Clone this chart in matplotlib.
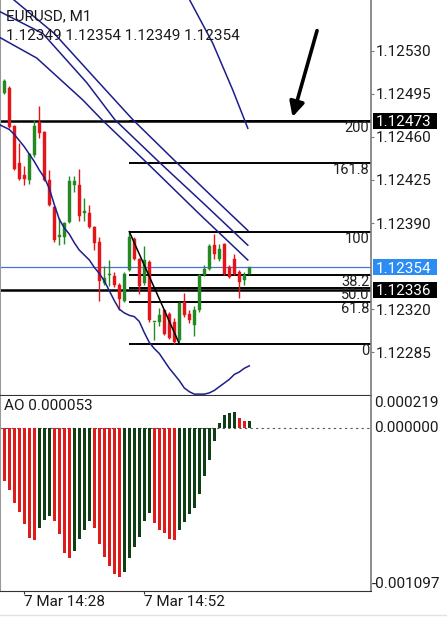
import matplotlib
matplotlib.use('Agg')
import matplotlib.pyplot as plt
import numpy as np
from matplotlib.patches import Rectangle
from matplotlib.lines import Line2D
from matplotlib.transforms import blended_transform_factory, IdentityTransform

plt.rcParams['font.family'] = ['Roboto', 'DejaVu Sans']

W, H = 447, 625

# ---------------- data ----------------
symbol_title = "EURUSD, M1"
ohlc_title = "1.12349 1.12354 1.12349 1.12354"

opens = [1.12496, 1.12500, 1.12469, 1.12439, 1.12429, 1.12425, 1.12445, 1.12472, 1.12464, 1.12425,
         1.12403, 1.12379, 1.12379, 1.12391, 1.12421, 1.12421, 1.12398, 1.12398, 1.12387, 1.12375,
         1.12341, 1.12348, 1.12347, 1.12340, 1.12327, 1.12352, 1.12377, 1.12361, 1.12341, 1.12358,
         1.12310, 1.12310, 1.12319, 1.12316, 1.12310, 1.12295, 1.12326, 1.12316, 1.12307, 1.12319,
         1.12348, 1.12353, 1.12372, 1.12361, 1.12373, 1.12354, 1.12361, 1.12350, 1.12344, 1.12349]
highs = [1.12507, 1.12501, 1.12470, 1.12455, 1.12436, 1.12447, 1.12474, 1.12485, 1.12465, 1.12433,
         1.12404, 1.12394, 1.12391, 1.12428, 1.12428, 1.12434, 1.12410, 1.12405, 1.12388, 1.12379,
         1.12355, 1.12360, 1.12350, 1.12341, 1.12350, 1.12383, 1.12379, 1.12362, 1.12371, 1.12360,
         1.12310, 1.12321, 1.12320, 1.12318, 1.12313, 1.12326, 1.12333, 1.12319, 1.12323, 1.12349,
         1.12356, 1.12373, 1.12381, 1.12373, 1.12374, 1.12356, 1.12365, 1.12352, 1.12350, 1.12354]
lows = [1.12495, 1.12467, 1.12433, 1.12425, 1.12421, 1.12422, 1.12444, 1.12459, 1.12424, 1.12404,
        1.12375, 1.12372, 1.12373, 1.12390, 1.12415, 1.12392, 1.12392, 1.12386, 1.12368, 1.12327,
        1.12340, 1.12339, 1.12338, 1.12319, 1.12326, 1.12351, 1.12360, 1.12332, 1.12340, 1.12310,
        1.12295, 1.12306, 1.12299, 1.12296, 1.12292, 1.12293, 1.12314, 1.12309, 1.12298, 1.12318,
        1.12347, 1.12352, 1.12361, 1.12359, 1.12348, 1.12345, 1.12348, 1.12329, 1.12340, 1.12349]
closes = [1.12505, 1.12468, 1.12434, 1.12426, 1.12426, 1.12446, 1.12469, 1.12463, 1.12425, 1.12405,
          1.12376, 1.12380, 1.12390, 1.12424, 1.12424, 1.12396, 1.12400, 1.12387, 1.12374, 1.12343,
          1.12345, 1.12349, 1.12340, 1.12328, 1.12349, 1.12379, 1.12361, 1.12339, 1.12360, 1.12311,
          1.12310, 1.12315, 1.12300, 1.12297, 1.12293, 1.12325, 1.12315, 1.12311, 1.12319, 1.12348,
          1.12353, 1.12371, 1.12365, 1.12369, 1.12349, 1.12346, 1.12349, 1.12342, 1.12348, 1.12354]

# fast moving average, bars -1 .. 49
ma_fast = [1.12470, 1.12468, 1.12466, 1.12462, 1.12457, 1.12452, 1.12446, 1.12440, 1.12433, 1.12427,
           1.12418, 1.12405, 1.12393, 1.12386, 1.12381, 1.12374, 1.12368, 1.12364, 1.12360, 1.12354,
           1.12349, 1.12343, 1.12335, 1.12327, 1.12320, 1.12317, 1.12315, 1.12314, 1.12310, 1.12301,
           1.12293, 1.12288, 1.12284, 1.12278, 1.12272, 1.12267, 1.12262, 1.12256, 1.12253, 1.12251,
           1.12251, 1.12251, 1.12252, 1.12254, 1.12257, 1.12260, 1.12263, 1.12267, 1.12269, 1.12272,
           1.12274]

# three parallel averages (sampled bars)
envA_bars = [-1, 2, 10, 18.5, 25.7, 34, 41.7, 48.7]
envA_vals = [1.12581, 1.12571, 1.12544, 1.12506, 1.12474, 1.12441, 1.12411, 1.12384]
envB_bars = [-1, 7.7, 16.5, 22.1, 31.1, 40.1, 48.7]
envB_vals = [1.12562, 1.12544, 1.12504, 1.12474, 1.12439, 1.12405, 1.12372]
envC_bars = [-1, 6.5, 15.7, 19.5, 28.5, 39.1, 48.7]
envC_vals = [1.12541, 1.12524, 1.12490, 1.12474, 1.12439, 1.12397, 1.12360]
# slow average
slow_bars = [34, 37.1, 41.7, 45.7, 48.7]
slow_vals = [1.12598, 1.12571, 1.12536, 1.12498, 1.12467]

# Awesome Oscillator (x1e-6)
ao = [-354, -413, -504, -561, -645, -741, -754, -673, -618, -589,
      -625, -714, -843, -877, -827, -743, -682, -625, -670, -777,
      -870, -925, -980, -1000, -968, -877, -798, -730, -623, -573,
      -636, -686, -707, -748, -754, -684, -632, -577, -536, -441,
      -323, -216, -82, 34, 91, 104, 110, 70, 48, 53]

hlines_prices = [1.12473, 1.12336]
current_price = 1.12354
fib_levels = [1.12473, 1.12439, 1.12383, 1.12348, 1.12337, 1.12326, 1.12292]
fib_labels = ["200", "161.8", "100", "38.2", "50.0", "61.8", "0"]
fib_start_bar = 25
fib_end_bar = 35

price_ticks = [1.12530, 1.12495, 1.12460, 1.12425, 1.12390, 1.12320, 1.12285]
ao_label_top, ao_label_bottom = 0.000219, -0.001097
time_tick_bars = [4, 28]
time_tick_labels = ["7 Mar 14:28", "7 Mar 14:52"]
arrow_tail = (62.7, 1.125485)
arrow_head = (57.5, 1.12474)

# ---------------- figure ----------------
fig = plt.figure(figsize=(W / 100, H / 100), dpi=100)
fig.patch.set_facecolor('white')

ax = fig.add_axes([0, 1 - 395 / H, 371 / W, 395 / H])
ax2 = fig.add_axes([0, 1 - 591 / H, 371 / W, (591 - 396) / H])

XMIN, XMAX = -0.86, 73.34
ax.set_xlim(XMIN, XMAX)
ax.set_ylim(1.122503, 1.125712)
ax2.set_xlim(XMIN, XMAX)
ax2.set_ylim(ao_label_bottom, ao_label_top)

GREEN = '#238a23'
RED = '#e3151a'
NAVY = '#1c1f8a'

o = np.array(opens); h = np.array(highs); l = np.array(lows); c = np.array(closes)
idx = np.arange(len(o))
up = c >= o
cols = np.where(up, GREEN, RED)

# horizontal lines
ax.axhline(current_price, color='#4a72d0', lw=0.9, zorder=1)
for p in hlines_prices:
    ax.axhline(p, color='black', lw=1.8, zorder=1)
# fib lines
ax.hlines(fib_levels, fib_start_bar, XMAX, color='black', lw=1.4, zorder=1)
ax.plot([fib_start_bar, fib_end_bar], [fib_levels[2], fib_levels[-1]], color='black', lw=1.1, zorder=4)

# moving averages
ax.plot(np.arange(-1, len(ma_fast) - 1), ma_fast, color=NAVY, lw=1.1, zorder=3)
for bx, vy in [(envA_bars, envA_vals), (envB_bars, envB_vals), (envC_bars, envC_vals), (slow_bars, slow_vals)]:
    ax.plot(bx, vy, color=NAVY, lw=1.1, zorder=3)

# candles
ax.vlines(idx, l, h, colors=cols, lw=1.0, zorder=2)
body = np.maximum(np.abs(c - o), 0.000008)
ax.bar(idx, body, bottom=np.minimum(o, c), width=0.62, color=cols, edgecolor=cols, lw=0.3, zorder=2)

# fib labels
tr = blended_transform_factory(ax.transAxes, ax.transData)
for lv, lb in zip(fib_levels, fib_labels):
    ax.text(0.995, lv, lb, transform=tr, ha='right', va='top', fontsize=10.5, color='#222222', zorder=5)

# arrow
ax.annotate('', xy=arrow_head, xytext=arrow_tail,
            arrowprops=dict(arrowstyle='-|>', lw=2.6, color='black', mutation_scale=22))

# axes styling
for a in (ax, ax2):
    a.set_facecolor('white')
    a.spines['left'].set_color('#9a9a9a')
    a.spines['right'].set_color('#7a7a7a')
    a.spines['right'].set_linewidth(1.2)
    a.spines['top'].set_visible(False)
    a.spines['bottom'].set_color('#333333')

ax.set_xticks([])
ax.yaxis.tick_right()
ax.set_yticks(price_ticks)
ax.set_yticklabels([f"{p:.5f}" for p in price_ticks])
ax.tick_params(axis='y', length=2, pad=1.5, labelsize=11, colors='#7a7a7a', labelcolor='#1a1a1a')

# price boxes
def price_box(p, fc):
    ypix = ax.transData.transform((0, p))[1]
    rect = Rectangle((372.5, ypix - 8), 64.5, 16, transform=IdentityTransform(), fc=fc, ec='none',
                     clip_on=False, zorder=10)
    fig.patches.append(rect)
    fig.text(375.5 / W, ypix / H, f"{p:.5f}", color='white', fontsize=11, ha='left', va='center_baseline',
             zorder=11)

price_box(hlines_prices[0], 'black')
price_box(current_price, '#2b8cf3')
price_box(hlines_prices[1], 'black')

# titles
fig.text(6 / W, 1 - 16.5 / H, symbol_title, fontsize=11, color='#1a1a1a', va='center', ha='left')
fig.text(6 / W, 1 - 36 / H, ohlc_title, fontsize=11, color='#1a1a1a', va='center', ha='left')

# AO panel
ao_v = np.array(ao) * 1e-6
ao_up = np.diff(ao_v, prepend=ao_v[0] + 1) > 0
ax2.axhline(0, color='#555555', lw=0.8, ls=(0, (2, 3)), zorder=1)
ax2.bar(np.arange(len(ao_v)), ao_v, width=0.55, color=np.where(ao_up, '#0f3f14', '#e01b1b'), zorder=2)
ax2.set_yticks([])
ax2.set_xticks(time_tick_bars)
ax2.set_xticklabels(time_tick_labels, ha='left')
ax2.tick_params(axis='x', length=2.2, pad=0.5, labelsize=11, colors='#333333', labelcolor='#1a1a1a')
tr2 = blended_transform_factory(ax2.transAxes, ax2.transData)
ax2.text(1.008, ao_label_top, f"{ao_label_top:.6f}", transform=tr2, ha='left', va='top', fontsize=11, color='#1a1a1a')
ax2.text(1.008, 0, "0.000000", transform=tr2, ha='left', va='center', fontsize=11, color='#1a1a1a')
ax2.text(1.003, ao_label_bottom, f"{ao_label_bottom:.6f}", transform=tr2, ha='left', va='bottom', fontsize=11, color='#1a1a1a')
ax2.text(4 / 371, 1 - 10.5 / 195, f"AO {ao[-1] * 1e-6:.6f}", transform=ax2.transAxes, ha='left', va='center',
         fontsize=11, color='#1a1a1a')

fig.add_artist(Line2D([0, 1], [1 - 615 / H, 1 - 615 / H], color='#e2e2e2', lw=1.0))

fig.savefig('out.png', dpi=100)
